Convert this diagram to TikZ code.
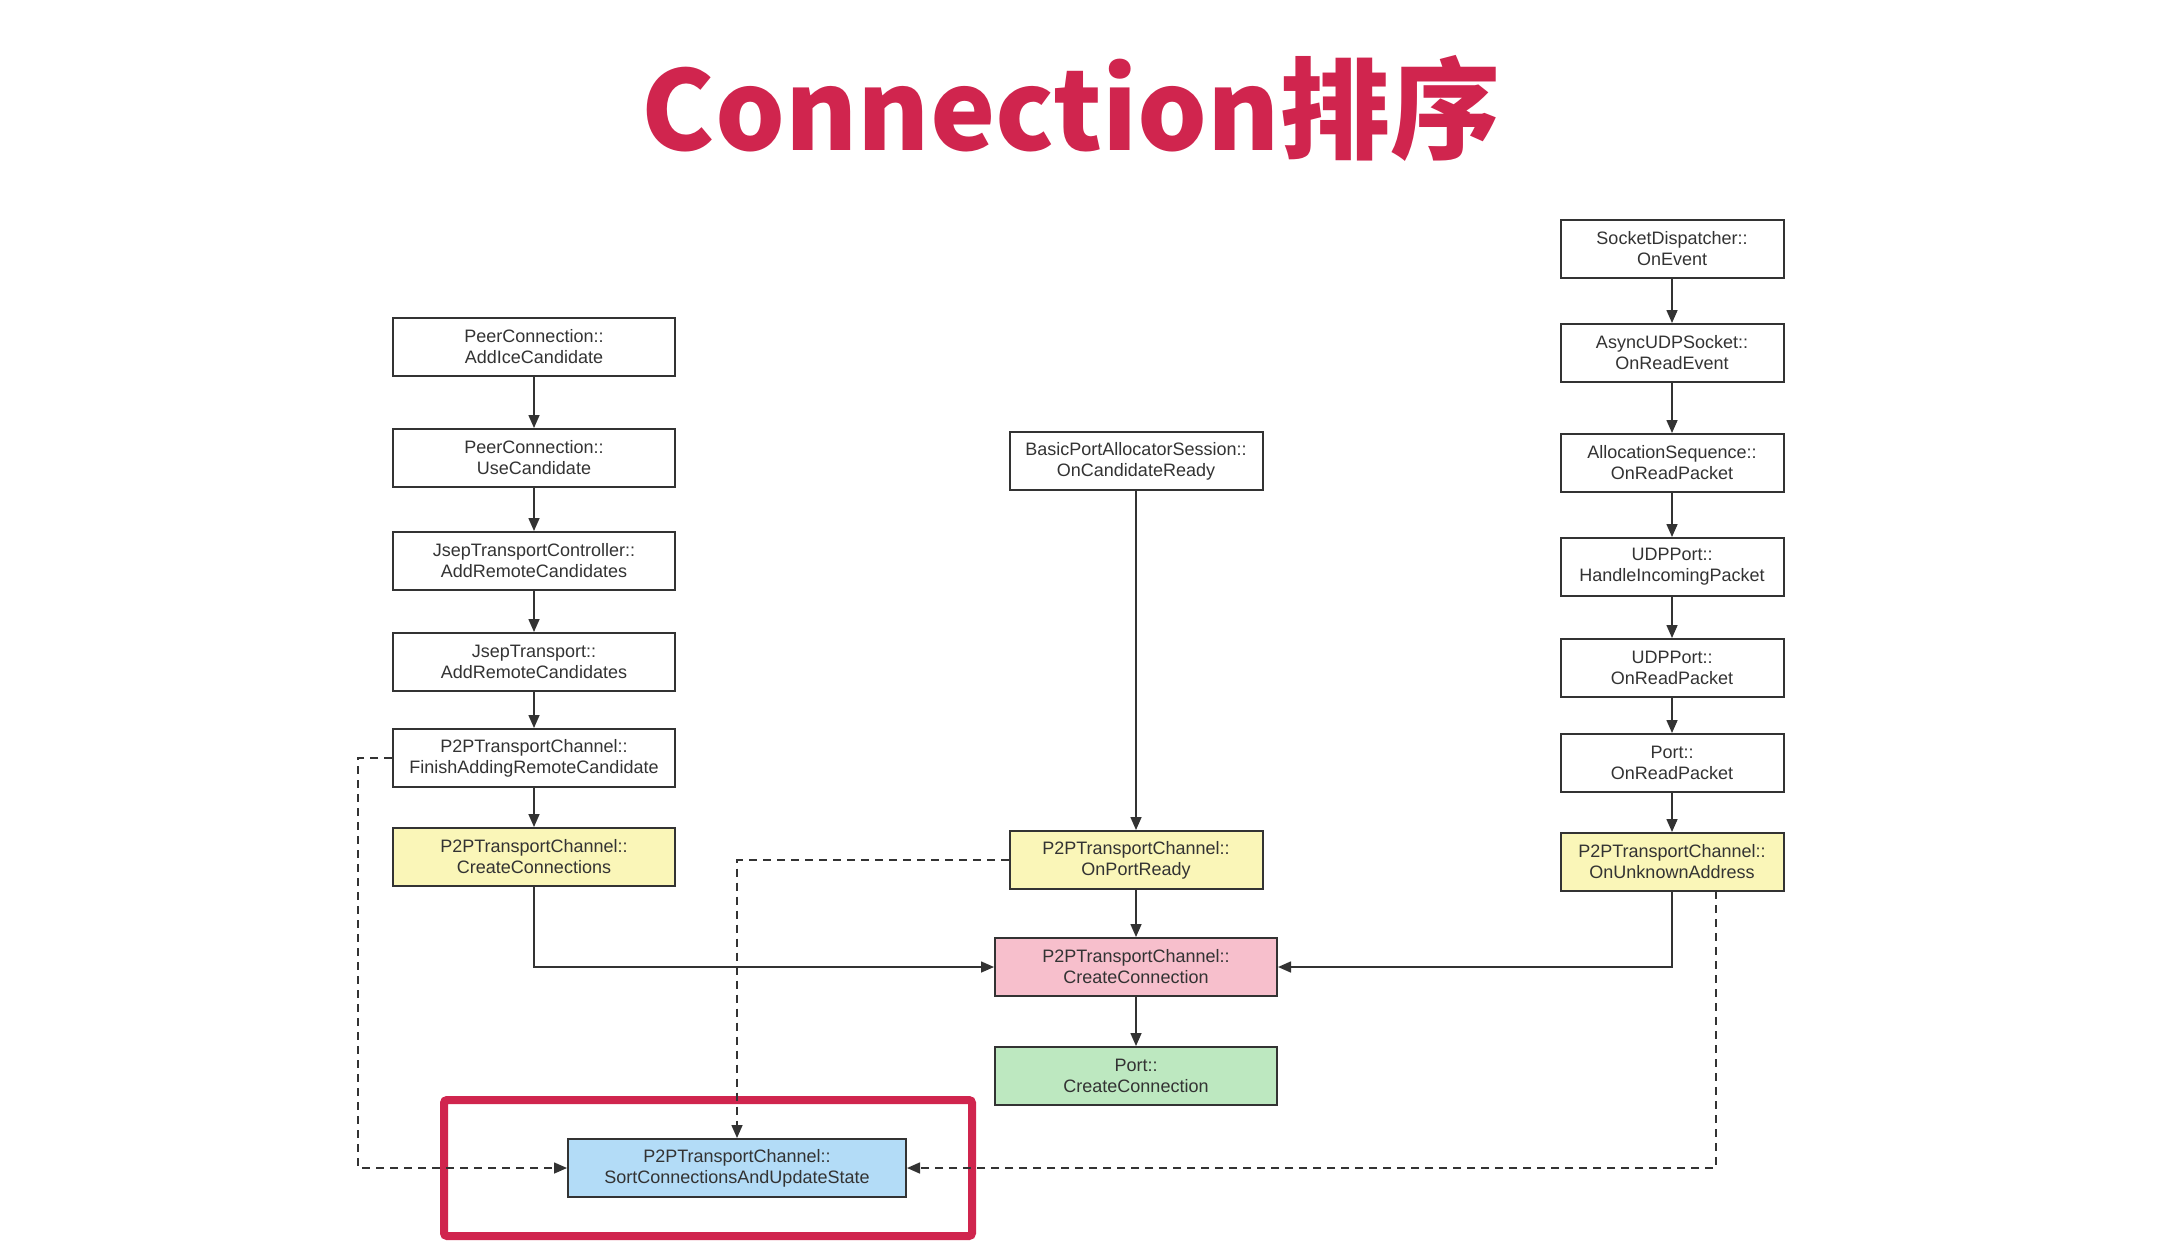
\documentclass[tikz,border=0pt]{standalone}
\usepackage{fontspec}
\setmainfont{Liberation Sans}
\newfontfamily\cjk{Noto Sans CJK SC}
\usetikzlibrary{arrows.meta}
\definecolor{ttl}{HTML}{D0254E}
\definecolor{ln}{HTML}{333333}
\definecolor{fy}{HTML}{FAF6B8}
\definecolor{fp}{HTML}{F7BFCC}
\definecolor{fg}{HTML}{BDE8C0}
\definecolor{fb}{HTML}{B3DCF7}
\tikzset{
  box/.style={draw=ln, line width=2pt, minimum height=58pt, align=center, inner sep=2pt,
    text=ln, font=\fontsize{18}{21}\selectfont},
  lbox/.style={box, minimum width=282pt},
  mbox/.style={box, minimum width=253pt},
  wbox/.style={box, minimum width=282pt},
  rbox/.style={box, minimum width=223pt},
  conn/.style={draw=ln, line width=1.6pt, -{Triangle[length=13pt,width=11pt]}},
  dconn/.style={conn, dash pattern=on 8pt off 6pt},
}
\begin{document}
\begin{tikzpicture}[x=1pt,y=-1pt]
\useasboundingbox[fill=white] (0,0) rectangle (2168,1256);
\node[text=ttl, font=\cjk\bfseries\fontsize{110}{122}\selectfont] (title) at (1071,108) {Connection排序};

% left column
\node[lbox] (a1) at (534,347) {PeerConnection::\\AddIceCandidate};
\node[lbox] (a2) at (534,458) {PeerConnection::\\UseCandidate};
\node[lbox] (a3) at (534,561) {JsepTransportController::\\AddRemoteCandidates};
\node[lbox] (a4) at (534,662) {JsepTransport::\\AddRemoteCandidates};
\node[lbox] (a5) at (534,758) {P2PTransportChannel::\\FinishAddingRemoteCandidate};
\node[lbox, fill=fy] (a6) at (534,857) {P2PTransportChannel::\\CreateConnections};

% middle column
\node[mbox] (m1) at (1136,461) {BasicPortAllocatorSession::\\OnCandidateReady};
\node[mbox, fill=fy] (m2) at (1136,860) {P2PTransportChannel::\\OnPortReady};
\node[wbox, fill=fp] (m3) at (1136,967) {P2PTransportChannel::\\CreateConnection};
\node[wbox, fill=fg] (m4) at (1136,1076) {Port::\\CreateConnection};

% right column
\node[rbox] (r1) at (1672,249) {SocketDispatcher::\\OnEvent};
\node[rbox] (r2) at (1672,353) {AsyncUDPSocket::\\OnReadEvent};
\node[rbox] (r3) at (1672,463) {AllocationSequence::\\OnReadPacket};
\node[rbox] (r4) at (1672,567) {UDPPort::\\HandleIncomingPacket};
\node[rbox] (r5) at (1672,668) {UDPPort::\\OnReadPacket};
\node[rbox] (r6) at (1672,763) {Port::\\OnReadPacket};
\node[rbox, fill=fy] (r7) at (1672,862) {P2PTransportChannel::\\OnUnknownAddress};

% sort box
\node[box, minimum width=338pt, fill=fb] (s) at (737,1168) {P2PTransportChannel::\\SortConnectionsAndUpdateState};
\draw[draw=ttl, line width=8pt, rounded corners=3pt] (444,1100) rectangle (972,1236);

% solid connectors
\foreach \p/\q in {a1/a2,a2/a3,a3/a4,a4/a5,a5/a6,m1/m2,m2/m3,m3/m4,r1/r2,r2/r3,r3/r4,r4/r5,r5/r6,r6/r7}
  \draw[conn] (\p) -- (\q);
\draw[conn] (a6.south) |- (m3.west);
\draw[conn] (r7.south) |- (m3.east);

% dashed connectors
\coordinate (dl) at (358,758);
\draw[dconn] (a5.west) -- (dl) |- (s.west);
\coordinate (dm) at (737,860);
\draw[dconn] (m2.west) -- (dm) -- (s.north);
\coordinate (dr) at (1716,891);
\draw[dconn] (dr) |- (s.east);
\end{tikzpicture}
\end{document}
